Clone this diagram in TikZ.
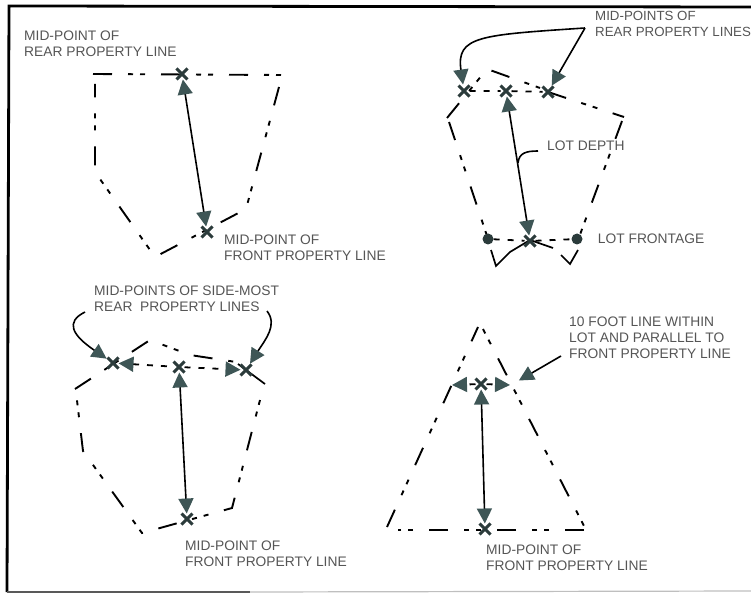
\documentclass[tikz,border=0pt]{standalone}
\usepackage{fontspec}
\setmainfont{Liberation Sans}
\usetikzlibrary{
  arrows.meta,
  positioning,  % Function "of" (e.g. [right=of x])
  shapes.misc   % Shape "cross out"
}
\definecolor{mytip}{HTML}{3E5656}
\definecolor{mymark}{HTML}{2B3B3B}
\definecolor{mytext}{HTML}{555555}
\tikzset{
  >={Triangle[length=15pt,width=15pt,color=mytip]},
  lot line/.style={
    line width=1.9pt,
    dash pattern=on 19pt off 16pt on 5pt off 7pt on 5pt off 16pt
  },
  dots first/.style={
    dash phase=35pt
  },
  notch line/.style={
    line width=1.7pt
  },
  inner line/.style={
    line width=1.8pt,
    dash pattern=on 6pt off 8pt
  },
  depth line/.style={
    <->,
    line width=1.6pt
  },
  leader/.style={
    ->,
    line width=1.6pt,
    shorten >=1pt
  },
  mid mark/.style={
    cross out,
    draw=mymark,
    line width=3pt,
    minimum size=8pt,
    inner sep=0pt
  },
  end dot/.style={
    circle,
    fill=mymark,
    minimum size=11pt,
    inner sep=0pt
  },
  label/.style={
    text=mytext,
    font=\fontsize{13.8}{16}\selectfont,
    align=left,
    anchor=west,
    inner sep=0pt
  }
}
\begin{document}
\begin{tikzpicture}[x=1pt,y=-1pt]
\useasboundingbox (0,0) rectangle (751,593);
% frame
\draw[line width=2.8pt] (751,7) -- (9,6) -- (7,592);
\draw[line width=1.6pt,black!65] (7,592) -- (250,592);
\draw[line width=1.2pt,black!25] (250,592) -- (751,591);

% top left lot
\draw[lot line] (93,74) -- (281,75);
\draw[lot line] (279,87) -- (246,209) -- (155,257) -- (95,172) -- (95,84);
\node[mid mark] (rearA) at (182,74) {};
\node[mid mark] (frontA) at (207,232) {};
\draw[depth line] (rearA) -- (frontA);
\node[label] (rearAlabel) at (24,43.5) {MID-POINT OF\\REAR PROPERTY LINE};
\node[label] (frontAlabel) at (224,248) {MID-POINT OF\\FRONT PROPERTY LINE};

% top right lot
\draw[lot line] (447,118) -- (487,69) -- (540,88);
\draw[lot line] (548,92) -- (624,117);
\draw[lot line] (622,121) -- (578,240);
\draw[notch line] (578,250) -- (570,264) -- (561,255);
\draw[notch line] (553,248) -- (530,240) -- (510,252) -- (496,266) -- (491,250);
\draw[lot line] (449,122) -- (488,239);
\node[mid mark] (rearBl) at (464,91) {};
\node[mid mark] (rearBm) at (506,91) {};
\node[mid mark] (rearBr) at (548,92) {};
\node[mid mark] (frontB) at (530,241) {};
\node[end dot] (dotBl) at (488,239) {};
\node[end dot] (dotBr) at (577,239) {};
\draw[inner line] (rearBl) -- (rearBm) -- (rearBr);
\draw[inner line] (dotBl) -- (frontB) -- (dotBr);
\draw[depth line] (rearBm) -- (frontB);
\node[label,font=\fontsize{13.3}{16}\selectfont] (rearBlabel) at (595,24) {MID-POINTS OF\\REAR PROPERTY LINES};
\node[label] (depthlabel) at (547,146) {LOT DEPTH};
\node[label,right=15pt of dotBr] (frontagelabel) {LOT FRONTAGE};
\coordinate (forkB) at (585,28);
\coordinate (depthjoin) at (518,163);
\draw[leader] (forkB) .. controls (480,35) and (456,36) .. (rearBl);
\draw[leader] (forkB) -- (rearBr);
\draw[line width=1.6pt] (depthlabel.west) ++(-9,5) .. controls (526,151) and (519,153) .. (depthjoin);

% bottom left lot
\draw[lot line] (75,389) -- (150,340) -- (190,355) -- (236,362);
\draw[notch line] (238,364) -- (265,384);
\draw[lot line,dots first] (260,400) -- (232,508) -- (142,533) -- (83,451) -- (76,392);
\node[mid mark] (rearCl) at (113,363) {};
\node[mid mark] (rearCm) at (179,367) {};
\node[mid mark] (rearCr) at (246,370) {};
\node[mid mark] (frontC) at (187,519) {};
\draw[inner line,<-] (rearCl) -- (rearCm);
\draw[inner line,->] (rearCm) -- (rearCr);
\draw[depth line] (rearCm) -- (frontC);
\node[label] (rearClabel) at (94,299) {MID-POINTS OF SIDE-MOST\\REAR\ \ PROPERTY LINES};
\node[label] (frontClabel) at (185,554) {MID-POINT OF\\FRONT PROPERTY LINE};
\coordinate (startCl) at (85,312);
\coordinate (startCr) at (267,311);
\draw[leader] (startCl) .. controls (65,322) and (72,335) .. (rearCl);
\draw[leader] (startCr) .. controls (278,325) and (265,340) .. (rearCr);

% bottom right lot
\draw[lot line] (387,527) -- (478,327);
\draw[lot line,dots first] (483,329) -- (584,526);
\draw[lot line] (584,530) -- (398,530);
\node[mid mark] (rearD) at (481,384) {};
\node[mid mark] (frontD) at (485,529) {};
\coordinate (tipDl) at (452,385);
\coordinate (tipDr) at (510,385);
\draw[inner line,->] (rearD) -- (tipDl);
\draw[inner line,->] (rearD) -- (tipDr);
\draw[depth line] (rearD) -- (frontD);
\node[label] (tenfootlabel) at (569,338) {10 FOOT LINE WITHIN\\LOT AND PARALLEL TO\\FRONT PROPERTY LINE};
\node[label] (frontDlabel) at (486,558) {MID-POINT OF\\FRONT PROPERTY LINE};
\coordinate (startD) at (561,356);
\coordinate (tipDleader) at (518,381);
\draw[leader] (startD) -- (tipDleader);
\end{tikzpicture}
\end{document}
